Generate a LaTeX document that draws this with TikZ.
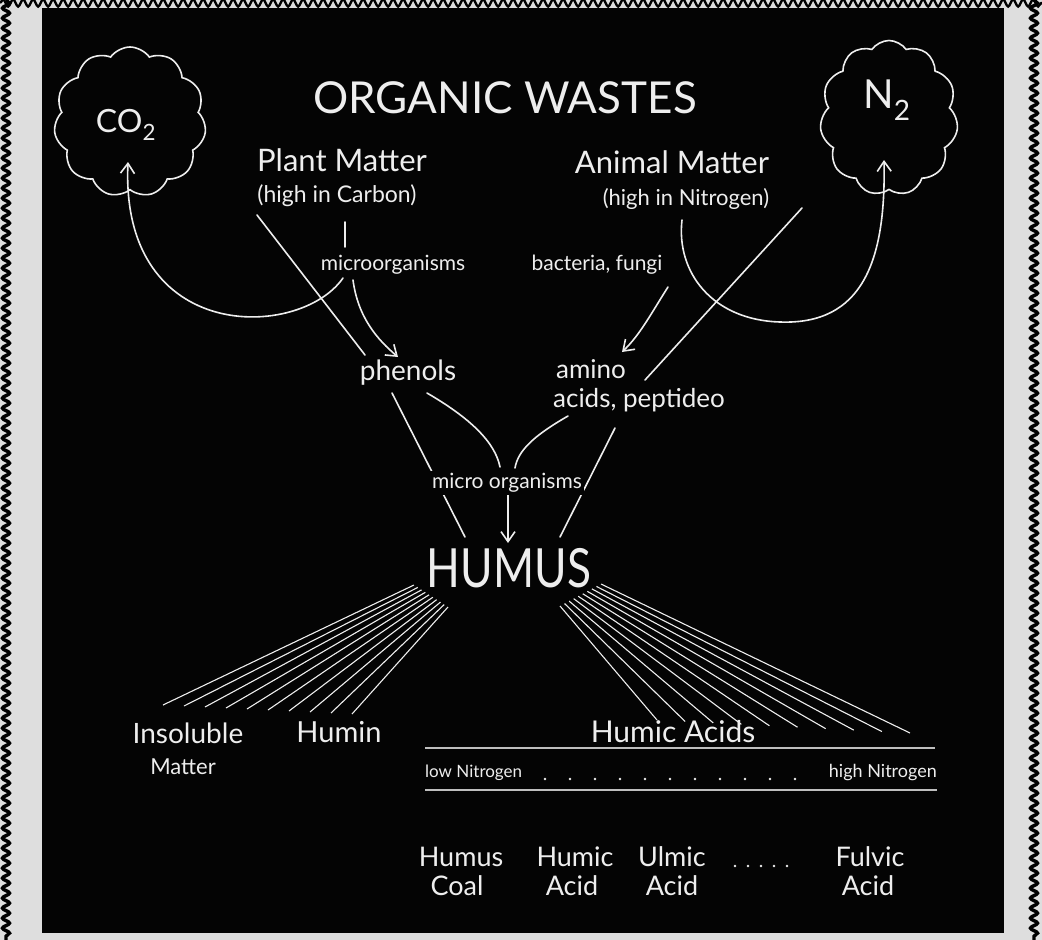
\documentclass[tikz,border=0pt]{standalone}
\usepackage{fontspec}
\setmainfont{Lato}
\usetikzlibrary{shapes.symbols,decorations.pathmorphing,arrows.meta,calc}
\definecolor{paper}{RGB}{222,222,222}
\definecolor{board}{RGB}{4,4,4}
\definecolor{chalkc}{RGB}{238,238,238}
\newcommand{\fsz}[1]{\fontsize{#1}{#1}\selectfont}
\begin{document}
\begin{tikzpicture}[x=1pt,y=-1pt,
  chalk/.style={draw=chalkc, line width=1.6pt, line cap=round},
  arr/.style={chalk, -{Straight Barb[length=10pt,width=14pt,line width=1.6pt]}},
  lbl/.style={text=chalkc, inner sep=0pt, anchor=center},
  fanline/.style={draw=chalkc, line width=1.1pt},
  rule/.style={draw=chalkc!80!black, line width=1.3pt},
  puff/.style={cloud, cloud puffs=11, cloud puff arc=110, cloud ignores aspect, draw=chalkc, line width=1.6pt, text=chalkc, inner sep=0pt},
  dotc/.style={fill=chalkc, draw=none},
  edge/.style={draw=black, line width=3.4pt, decorate, decoration={snake, segment length=10pt, amplitude=3.5pt}}
]
% frame
\fill[paper] (0,0) rectangle (1042,940);
\useasboundingbox (0,0) rectangle (1042,940);
\fill[board] (42,8) rectangle (1004,933);
\draw[edge] (6,0) -- (6,940);
\draw[edge] (1034,0) -- (1034,940);
\draw[edge, line width=2.4pt] (0,3) -- (1042,3);

% clouds
\node[puff, minimum width=152pt, minimum height=150pt] (co2) at (130,122) {};
\node[lbl, font=\fsz{32}] (co2t) at (126,125) {CO\textsubscript{2}};
\node[puff, minimum width=138pt, minimum height=155pt] (n2) at (889,118) {};
\node[lbl, font=\fsz{40}] (n2t) at (887,100) {N\textsubscript{2}};

% titles
\node[lbl, font=\fsz{44}] (title) at (505,98) {ORGANIC WASTES};
\node[lbl, font=\fsz{31}] (plant) at (342,160) {Plant Matter};
\node[lbl, font=\fsz{23}] (plantsub) at (337,196) {(high in Carbon)};
\node[lbl, font=\fsz{31}] (animal) at (672,162) {Animal Matter};
\node[lbl, font=\fsz{22}] (animalsub) at (686,199) {(high in Nitrogen)};

% coordinates for connectors
\coordinate (c2start) at (343,278);
\coordinate (c2end) at (128,162);
\coordinate (n2start) at (682,220);
\coordinate (n2end) at (884,160);
\coordinate (pv1) at (345,222);
\coordinate (pv2) at (345,247);
\coordinate (pl1) at (257,215);
\coordinate (pl2) at (365,355);
\coordinate (pa1) at (353,280);
\coordinate (pa2) at (398,357);
\coordinate (al1) at (802,208);
\coordinate (al2) at (645,380);
\coordinate (ba1) at (668,287);
\coordinate (ba2) at (622,352);
\coordinate (ph1) at (392,393);
\coordinate (ph2) at (465,537);
\coordinate (pc1) at (427,393);
\coordinate (pc2) at (500,467);
\coordinate (ac1) at (568,416);
\coordinate (ac2) at (515,468);
\coordinate (am1) at (615,428);
\coordinate (am2) at (560,537);
\coordinate (da1) at (508,494);
\coordinate (da2) at (508,543);

% connectors
\draw[arr] (c2start) .. controls (300,340) and (120,345) .. (c2end);
\draw[arr] (n2start) .. controls (676,272) and (712,320) .. (780,322) .. controls (862,325) and (886,262) .. (n2end);
\draw[chalk] (pv1) -- (pv2);
\draw[chalk] (pl1) -- (pl2);
\draw[arr] (pa1) .. controls (358,318) and (378,340) .. (pa2);
\draw[chalk] (al1) -- (al2);
\draw[arr] (ba1) .. controls (652,312) and (640,335) .. (ba2);
\draw[chalk] (ph1) -- (ph2);
\draw[chalk] (pc1) .. controls (470,418) and (495,442) .. (pc2);
\draw[chalk] (ac1) .. controls (535,435) and (518,450) .. (ac2);
\draw[chalk] (am1) -- (am2);
\draw[arr, line width=2pt] (da1) -- (da2);

% middle labels
\node[lbl, font=\fsz{21}, fill=board] (micro1) at (393,265) {microorganisms};
\node[lbl, font=\fsz{21}, fill=board] (bact) at (597,265) {bacteria, fungi};
\node[lbl, font=\fsz{28}] (phen) at (408,373) {phenols};
\node[lbl, font=\fsz{26}] (amino) at (591,369) {amino};
\node[lbl, font=\fsz{26}] (acids) at (639,400) {acids, peptideo};
\node[lbl, font=\fsz{21}, fill=board, inner sep=2pt] (micro2) at (507,483) {micro organisms};
\node[lbl, font=\fsz{54}] (humus) at (509,568) {\scalebox{0.82}[1]{HUMUS}};

% fans
\coordinate (ls1) at (414,585);
\coordinate (ls2) at (448,607);
\coordinate (le1) at (163,705);
\coordinate (le2) at (352,714);
\coordinate (rs1) at (601,584);
\coordinate (rs2) at (560,606);
\coordinate (re1) at (910,733);
\coordinate (re2) at (657,720);
\foreach \i in {0,...,9} {
  \draw[fanline] ($(ls1)!\i/9!(ls2)$) -- ($(le1)!\i/9!(le2)$);
  \draw[fanline] ($(rs1)!\i/9!(rs2)$) -- ($(re1)!\i/9!(re2)$);
}

% bottom labels
\node[lbl, font=\fsz{28}] (insol) at (188,733) {Insoluble};
\node[lbl, font=\fsz{22}] (matter) at (183,767) {Matter};
\node[lbl, font=\fsz{29}] (humin) at (339,732) {Humin};
\node[lbl, font=\fsz{30}] (humic) at (673,732) {Humic Acids};
\draw[rule] (425,748) -- (935,748);
\draw[rule] (425,790) -- (937,790);
\node[lbl, font=\fsz{17}, anchor=west] (lown) at (425,773) {low Nitrogen};
\node[lbl, font=\fsz{18}, anchor=east] (highn) at (937,773) {high Nitrogen};
\foreach \x in {545,570,...,795} { \fill[dotc] (\x,779) circle (1.3pt); }

\node[lbl, font=\fsz{27}] (hc1) at (461,857) {Humus};
\node[lbl, font=\fsz{27}] (hc2) at (457,886) {Coal};
\node[lbl, font=\fsz{27}] (ha1) at (575,857) {Humic};
\node[lbl, font=\fsz{27}] (ha2) at (572,886) {Acid};
\node[lbl, font=\fsz{27}] (ua1) at (672,857) {Ulmic};
\node[lbl, font=\fsz{27}] (ua2) at (672,886) {Acid};
\node[lbl, font=\fsz{27}] (fa1) at (870,857) {Fulvic};
\node[lbl, font=\fsz{27}] (fa2) at (868,886) {Acid};
\foreach \x in {735,748,761,774,787} { \fill[dotc] (\x,866) circle (1.3pt); }
\end{tikzpicture}
\end{document}
